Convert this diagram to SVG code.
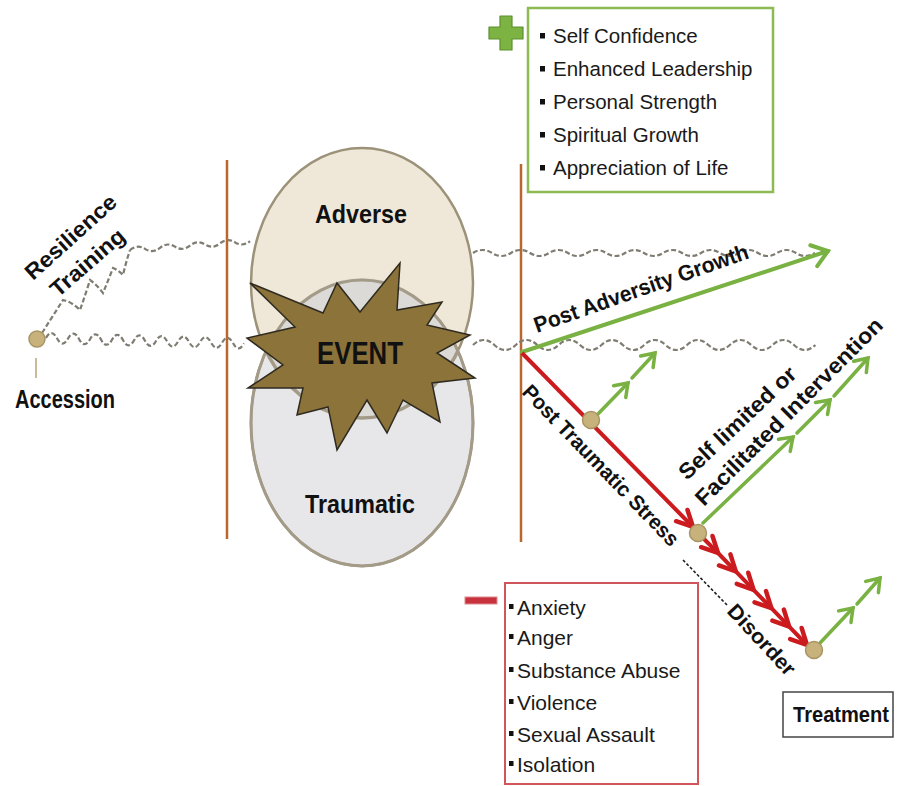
<svg xmlns="http://www.w3.org/2000/svg" width="898" height="786" viewBox="0 0 898 786">
<style>
.t{font-family:"Liberation Sans",Arial,sans-serif;fill:#111}
.b{font-weight:bold}
.li{font-family:"Liberation Sans",Arial,sans-serif;fill:#1a1a1a;font-size:20.5px}
.lm{font-family:"Liberation Sans",Arial,sans-serif;fill:#1a1a1a;font-size:21px}
.wave{fill:none;stroke:#7f7c72;stroke-width:2.2;stroke-dasharray:5 2.5}
.vline{stroke:#b9672e;stroke-width:2.5}
.g{stroke:#79b142;fill:none;stroke-linecap:round}
.r{stroke:#cc1b1f;fill:none}
.dot{fill:#c8b27c;stroke:#a99463;stroke-width:1.5}
.bul{fill:#111}
</style>
<defs>
<marker id="gch" markerUnits="userSpaceOnUse" markerWidth="40" markerHeight="40" viewBox="-20 -20 40 40" refX="0" refY="0" orient="auto" overflow="visible">
<path d="M-15,-11 L0,0 L-15,11" fill="none" stroke="#79b142" stroke-width="4" stroke-linecap="round" stroke-linejoin="miter"/>
</marker>
<marker id="gsm" markerUnits="userSpaceOnUse" markerWidth="40" markerHeight="40" viewBox="-20 -20 40 40" refX="0" refY="0" orient="auto" overflow="visible">
<path d="M-12,-8.5 L0,0 L-12,8.5" fill="none" stroke="#79b142" stroke-width="3.5" stroke-linecap="round"/>
</marker>
<marker id="rch" markerUnits="userSpaceOnUse" markerWidth="40" markerHeight="40" viewBox="-20 -20 40 40" refX="0" refY="0" orient="auto" overflow="visible">
<path d="M-16,-8 L0,0 L-16,8" fill="none" stroke="#cc1b1f" stroke-width="4.5" stroke-linecap="round"/>
</marker>
<clipPath id="clipBot"><ellipse cx="362" cy="421" rx="111" ry="143"/></clipPath>
</defs>

<!-- vertical boundary lines -->
<g id="boundaries">
<line class="vline" x1="227" y1="160" x2="227" y2="539"/>
<line class="vline" x1="521" y1="164" x2="521" y2="542"/>
</g>

<!-- connectors: wavy paths and arrows -->
<g id="connectors">
<path class="wave" d="M42,333 L63,300 Q72,302 80,310 Q85,296 90,280 Q97,285 103,293 Q108,281 113,268 Q118,270 123,275 Q126,262 130,250"/>
<path class="wave" d="M130,250 q7.5,-6 15,-1.1 t15,-1.1 t15,-1.1 t15,-1.1 t15,-1.1 t15,-1.1 t15,-1.1 t15,-1.1"/>
<path class="wave" d="M46,338 q5.5,-10 11,0.3 t11,0.3 t11,0.3 t11,0.3 t11,0.3 t11,0.3 t11,0.3 t11,0.3 t11,0.3 t11,0.3 t11,0.3 t11,0.3 t11,0.3 t11,0.3 t11,0.3 t11,0.3 t11,0.3 t11,0.3"/>
<path class="wave" d="M473,253 q9.5,-6 19,0 t19,0 t19,0 t19,0 t19,0 t19,0 t19,0 t19,0 t19,0 t19,0 t19,0 t19,0 t19,0 t19,0 t19,0 t19,0 t19,0 t19,0"/>
<path class="wave" d="M473,345 q10.7,-10 21.4,0 t21.4,0 t21.4,0 t21.4,0 t21.4,0 t21.4,0 t21.4,0 t21.4,0 t21.4,0 t21.4,0 t21.4,0 t21.4,0 t21.4,0 t21.4,0 t21.4,0 t21.4,0"/>
<line x1="36" y1="358" x2="36" y2="378" stroke="#c9bb98" stroke-width="2"/>

<line class="g" x1="522" y1="352" x2="828" y2="251" stroke-width="4" marker-end="url(#gch)"/>
<line class="r" x1="522" y1="353" x2="693" y2="527" stroke-width="4" marker-end="url(#rch)"/>
<path class="r" stroke-width="4" d="M698,533 L718,553 L735.8,571.4 L753.6,589.8 L771.4,608.2 L789.2,626.6 L807,645" marker-mid="url(#rch)" marker-end="url(#rch)"/>

<line class="g" stroke-width="3.5" x1="597" y1="415" x2="628" y2="383" marker-end="url(#gsm)"/>
<line class="g" stroke-width="3.5" x1="632" y1="378" x2="655" y2="353" marker-end="url(#gsm)"/>
<line class="g" stroke-width="3.5" x1="703" y1="523" x2="793" y2="437" marker-end="url(#gsm)"/>
<line class="g" stroke-width="3.5" x1="797" y1="433" x2="830" y2="400" marker-end="url(#gsm)"/>
<line class="g" stroke-width="3.5" x1="834" y1="396" x2="868" y2="358" marker-end="url(#gsm)"/>
<line class="g" stroke-width="3.5" x1="820" y1="643" x2="853" y2="608" marker-end="url(#gsm)"/>
<line class="g" stroke-width="3.5" x1="857" y1="604" x2="880" y2="578" marker-end="url(#gsm)"/>

<line x1="683" y1="560" x2="727" y2="605" stroke="#222" stroke-width="1.6" stroke-dasharray="3 2"/>
</g>

<!-- event ellipses -->
<g id="adverse">
<ellipse cx="362" cy="283" rx="111" ry="135" fill="#efe8d8" stroke="#9c927a" stroke-width="2.5"/>
<text class="t b" x="361" y="223" font-size="26" text-anchor="middle" textLength="92" lengthAdjust="spacingAndGlyphs">Adverse</text>
</g>
<g id="traumatic">
<ellipse cx="362" cy="423" rx="111" ry="143" fill="#e7e7e9" stroke="#9c927a" stroke-width="2.5"/>
<ellipse cx="362" cy="283" rx="111" ry="135" fill="#dcdad6" stroke="#a39b88" stroke-width="3.5" clip-path="url(#clipBot)"/>
<ellipse cx="362" cy="423" rx="111" ry="143" fill="none" stroke="#a39b88" stroke-width="3"/>
<text class="t b" x="360" y="513" font-size="26" text-anchor="middle" textLength="110" lengthAdjust="spacingAndGlyphs">Traumatic</text>
</g>
<g id="event">
<polygon points="250,283 323,313 337,283 360,312 400,263 397,310 442,302 427,325 470,335 437,353 475,378 432,383 440,422 403,400 387,433 367,400 337,450 328,407 297,415 303,388 248,388 283,365 247,338 295,327" fill="#8c733a" stroke="#2e2a20" stroke-width="1.5" stroke-linejoin="miter"/>
<text class="t b" x="360" y="364" font-size="31" text-anchor="middle" textLength="86" lengthAdjust="spacingAndGlyphs">EVENT</text>
</g>

<!-- start -->
<g id="accession">
<circle class="dot" cx="37" cy="339" r="8"/>
<text class="t b" x="15" y="408" font-size="25" textLength="100" lengthAdjust="spacingAndGlyphs">Accession</text>
</g>
<g id="resilience">
<text class="t b" transform="translate(33,281) rotate(-42)" font-size="22" textLength="115" lengthAdjust="spacingAndGlyphs">Resilience</text>
<text class="t b" transform="translate(58,298) rotate(-41)" font-size="22" textLength="91" lengthAdjust="spacingAndGlyphs">Training</text>
</g>

<!-- positive outcomes -->
<g id="positive">
<path d="M500,16 h12 v11 h11 v12 h-11 v11 h-12 v-11 h-11 v-12 h11 z" fill="#7cb342" stroke="#5d8f2e" stroke-width="1.2" stroke-linejoin="round"/>
<rect x="528" y="8" width="245" height="184" fill="#fff" stroke="#8dbb52" stroke-width="2.5"/>
<rect class="bul" x="540" y="33" width="5" height="5.5"/>
<rect class="bul" x="540" y="66" width="5" height="5.5"/>
<rect class="bul" x="540" y="99" width="5" height="5.5"/>
<rect class="bul" x="540" y="132" width="5" height="5.5"/>
<rect class="bul" x="540" y="165" width="5" height="5.5"/>
<text class="li" x="553" y="43">Self Confidence</text>
<text class="li" x="553" y="76">Enhanced Leadership</text>
<text class="li" x="553" y="109">Personal Strength</text>
<text class="li" x="553" y="142">Spiritual Growth</text>
<text class="li" x="553" y="175">Appreciation of Life</text>
</g>

<!-- negative outcomes -->
<g id="negative">
<rect x="465" y="597" width="32" height="7" fill="#c8323c" stroke="#e08a8e" stroke-width="1"/>
<rect x="505" y="583" width="193" height="201" fill="#fff" stroke="#d0565c" stroke-width="2"/>
<rect class="bul" x="509" y="604" width="4.5" height="5"/>
<rect class="bul" x="509" y="634" width="4.5" height="5"/>
<rect class="bul" x="509" y="667" width="4.5" height="5"/>
<rect class="bul" x="509" y="699" width="4.5" height="5"/>
<rect class="bul" x="509" y="731" width="4.5" height="5"/>
<rect class="bul" x="509" y="761" width="4.5" height="5"/>
<text class="lm" x="517" y="615">Anxiety</text>
<text class="lm" x="517" y="645">Anger</text>
<text class="lm" x="517" y="678">Substance Abuse</text>
<text class="lm" x="517" y="710">Violence</text>
<text class="lm" x="517" y="742">Sexual Assault</text>
<text class="lm" x="517" y="772">Isolation</text>
</g>

<!-- path labels -->
<g id="growth-label">
<text class="t b" transform="translate(537,333) rotate(-19.4)" font-size="22" textLength="226" lengthAdjust="spacingAndGlyphs">Post Adversity Growth</text>
</g>
<g id="pts-label">
<text class="t b" transform="translate(521,393) rotate(46)" font-size="21" textLength="215" lengthAdjust="spacingAndGlyphs">Post Traumatic Stress</text>
<text class="t b" transform="translate(726,612) rotate(47)" font-size="21" textLength="89" lengthAdjust="spacingAndGlyphs">Disorder</text>
</g>
<g id="intervention-label">
<text class="t b" transform="translate(687,481) rotate(-43.5)" font-size="22" textLength="153" lengthAdjust="spacingAndGlyphs">Self limited or</text>
<text class="t b" transform="translate(704,507) rotate(-45)" font-size="22" textLength="255" lengthAdjust="spacingAndGlyphs">Facilitated Intervention</text>
</g>

<!-- nodes on the stress path -->
<g id="node-early"><circle class="dot" cx="591" cy="420" r="8.5"/></g>
<g id="node-mid"><circle class="dot" cx="698" cy="533" r="8.5"/></g>
<g id="node-late"><circle class="dot" cx="814" cy="650" r="8.5"/></g>

<g id="treatment">
<rect x="783" y="692" width="110" height="45" fill="#fff" stroke="#444" stroke-width="1.5"/>
<text class="t b" x="793" y="722" font-size="22" textLength="96" lengthAdjust="spacingAndGlyphs">Treatment</text>
</g>
</svg>
